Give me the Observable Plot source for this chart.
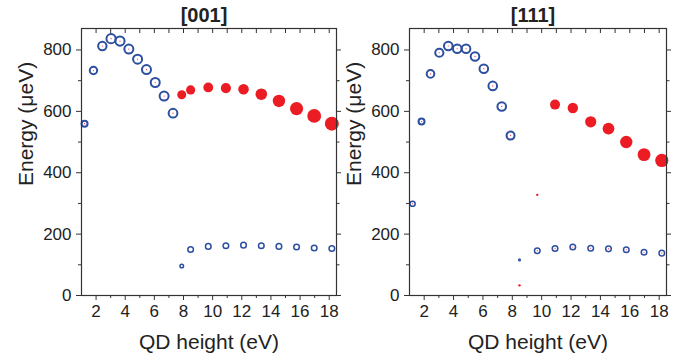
<!DOCTYPE html>
<html><head><meta charset="utf-8">
<script src="https://cdn.jsdelivr.net/npm/d3@7"></script>
<script src="https://cdn.jsdelivr.net/npm/@observablehq/plot@0.6"></script>
<style>
html,body{margin:0;padding:0;background:#fff;}
#chart{display:flex;width:685px;height:360px;}
#chart svg{display:block;}
</style></head><body><div id="chart"></div>
<script>
// ---- ticks and labels ----
const xTicksMajor = [2, 4, 6, 8, 10, 12, 14, 16, 18];
const xTicksMinor = [3, 5, 7, 9, 11, 13, 15, 17];
const yTicksMajor = [0, 200, 400, 600, 800];
const yTicksMinor = [100, 300, 500, 700];
const xLabel = "QD height (eV)";
const yLabel = "Energy (μeV)";
const titles = ["[001]", "[111]"];

// ---- [001] panel ----
const a_openUpperX = [1.21, 1.82, 2.43, 3.03, 3.64, 4.25, 4.85, 5.46, 6.06, 6.67, 7.28];
const a_openUpperY = [560, 733, 813, 837, 829, 803, 770, 736, 694, 650, 594];
const a_openUpperS = [3.0, 3.7, 4.2, 4.6, 4.6, 4.5, 4.5, 4.5, 4.5, 4.5, 4.4];
const a_openLowerX = [7.88, 8.49, 9.70, 10.91, 12.12, 13.34, 14.55, 15.76, 16.97, 18.18];
const a_openLowerY = [96, 150, 160, 162, 164, 162, 160, 158, 155, 153];
const a_openLowerS = [1.8, 2.8, 2.8, 2.8, 2.8, 2.8, 2.8, 2.8, 2.8, 2.8];
const a_filledX = [7.88, 8.49, 9.70, 10.91, 12.12, 13.34, 14.55, 15.76, 16.97, 18.18];
const a_filledY = [654, 670, 678, 676, 672, 656, 634, 609, 585, 560];
const a_filledS = [4.5, 4.6, 4.9, 5.1, 5.3, 5.8, 6.2, 6.6, 6.9, 7.0];

// ---- [111] panel ----
const b_openUpperX = [1.82, 2.43, 3.03, 3.64, 4.25, 4.85, 5.46, 6.06, 6.67, 7.28, 7.88];
const b_openUpperY = [567, 722, 791, 813, 804, 804, 779, 739, 683, 616, 521];
const b_openUpperS = [3.0, 3.8, 4.1, 4.3, 4.3, 4.3, 4.3, 4.3, 4.3, 4.3, 4.0];
const b_openLowerX = [1.21, 8.49, 9.70, 10.91, 12.12, 13.34, 14.55, 15.76, 16.97, 18.18];
const b_openLowerY = [299, 116, 146, 153, 158, 154, 152, 149, 141, 138];
const b_openLowerS = [2.6, 0.8, 2.8, 2.8, 2.8, 2.8, 2.8, 2.8, 2.8, 2.8];
const b_filledX = [1.21, 1.82, 2.43, 3.03, 3.64, 4.25, 4.85, 5.46, 6.06, 6.67, 7.28, 7.88, 8.49, 9.70, 10.91, 12.12, 13.34, 14.55, 15.76, 16.97, 18.18];
const b_filledY = [0, 0, 0, 0, 0, 0, 0, 0, 0, 0, 0, 0, 33, 328, 622, 611, 566, 544, 500, 459, 440];
const b_filledS = [0.6, 0.6, 0.6, 0.6, 0.6, 0.6, 0.6, 0.6, 0.6, 0.6, 0.6, 0.6, 1.2, 1.2, 5.0, 5.2, 5.6, 5.9, 6.2, 6.4, 6.6];

const BLUE = "#2d4fa0";
const RED = "#ec1c24";
const AXIS = "#333";
const noText = {tickFormat: () => "", fill: "none", label: null, stroke: AXIS};

function panel({title, oUx, oUy, oUs, oLx, oLy, oLs, fx, fy, fs, width, marginLeft, marginRight, centerDots}) {
  const marks = [
    Plot.dot(fx, {x: fx, y: fy, r: fs, fill: RED, stroke: "none"}),
    Plot.dot(oUx, {x: oUx, y: oUy, r: oUs, fill: "none", stroke: BLUE, strokeWidth: 2}),
    Plot.dot(oLx, {x: oLx, y: oLy, r: oLs, fill: "none", stroke: BLUE, strokeWidth: 1.5}),
    Plot.dot(oUx, {x: oUx, y: oUy, r: 0.6, fill: "#f26", stroke: "none"}),
  ];
  if (centerDots) marks.push(Plot.dot(oLx, {x: oLx, y: oLy, r: 0.6, fill: "#f26", stroke: "none"}));
  marks.push(
    Plot.frame({stroke: AXIS, strokeWidth: 1.2}),
    Plot.axisY(yTicksMajor, {anchor: "left", tickSize: 5, tickPadding: 5, fontSize: 17, label: null, stroke: AXIS, fill: "#222"}),
    Plot.axisY(yTicksMinor, {anchor: "left", tickSize: 3, ...noText}),
    Plot.axisY(yTicksMajor, {anchor: "right", tickSize: 4, ...noText}),
    Plot.axisY(yTicksMinor, {anchor: "right", tickSize: 2.5, ...noText}),
    Plot.axisX(xTicksMajor, {anchor: "bottom", tickSize: 5, tickPadding: 4, fontSize: 17, label: null, stroke: AXIS, fill: "#222"}),
    Plot.axisX(xTicksMinor, {anchor: "bottom", tickSize: 3, ...noText}),
    Plot.axisX(xTicksMajor.concat(xTicksMinor), {anchor: "top", tickSize: 4, dy: 4, ...noText}),
    Plot.text([title], {frameAnchor: "top", text: d => d, lineAnchor: "bottom", dy: -7, dx: -5, fontSize: 20, fontWeight: "bold", fill: "#222"}),
    Plot.text([xLabel], {frameAnchor: "bottom", text: d => d, lineAnchor: "bottom", dy: 53, fontSize: 21, fill: "#222"}),
    Plot.text([yLabel], {frameAnchor: "left", text: d => d, rotate: -90, lineAnchor: "bottom", dx: -49, dy: 24, fontSize: 21, fill: "#222"})
  );
  return Plot.plot({
    width, height: 360,
    marginLeft, marginRight, marginTop: 28, marginBottom: 65,
    style: {fontFamily: "'Liberation Sans', Arial, sans-serif", fontSize: "16px", background: "#fff"},
    x: {domain: [1, 18.5]},
    y: {domain: [0, 870]},
    r: {type: "identity"},
    marks
  });
}

const chart = document.getElementById("chart");
chart.appendChild(panel({title: titles[0], oUx: a_openUpperX, oUy: a_openUpperY, oUs: a_openUpperS,
  oLx: a_openLowerX, oLy: a_openLowerY, oLs: a_openLowerS, fx: a_filledX, fy: a_filledY, fs: a_filledS,
  width: 342, marginLeft: 81, marginRight: 6, centerDots: false}));
chart.appendChild(panel({title: titles[1], oUx: b_openUpperX, oUy: b_openUpperY, oUs: b_openUpperS,
  oLx: b_openLowerX, oLy: b_openLowerY, oLs: b_openLowerS, fx: b_filledX, fy: b_filledY, fs: b_filledS,
  width: 343, marginLeft: 67, marginRight: 19, centerDots: true}));
</script></body></html>
